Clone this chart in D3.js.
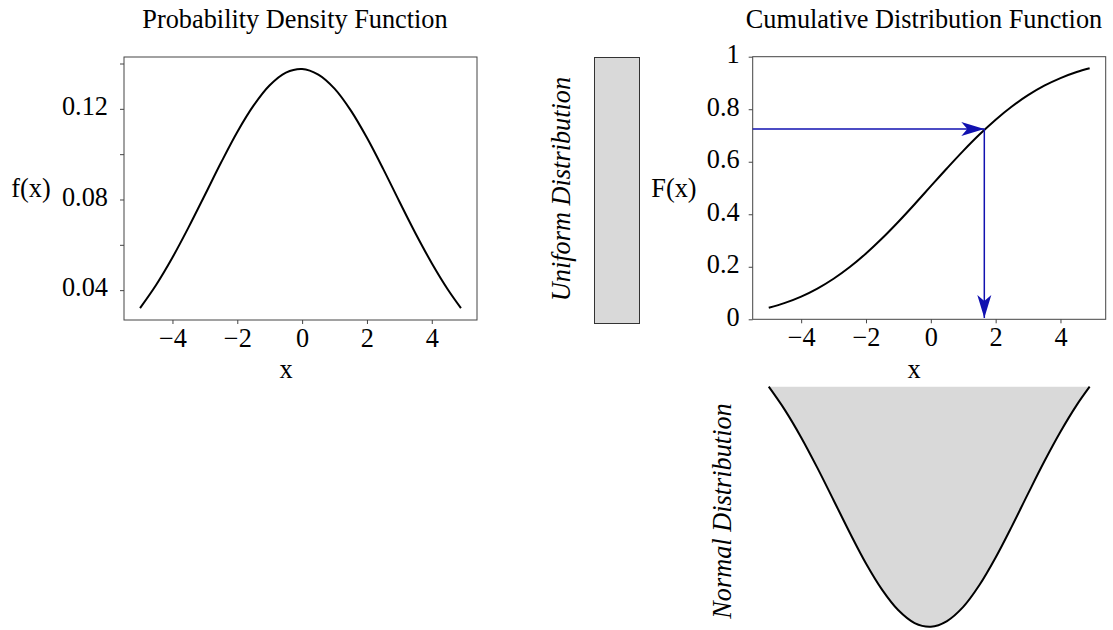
<!DOCTYPE html>
<html>
<head>
<meta charset="utf-8">
<script src="https://cdn.jsdelivr.net/npm/d3@7"></script>
<style>
  html, body { margin: 0; padding: 0; background: #fff; }
  svg { display: block; font-family: "Liberation Serif", "Times New Roman", serif; }
  svg text { font-family: "Liberation Serif", "Times New Roman", serif; }
</style>
</head>
<body>
<div id="chart"></div>
<script>
// values
const xValues = [-5, -4.5, -4, -3.5, -3, -2.5, -2, -1.5, -1, -0.5, 0, 0.5, 1, 1.5, 2, 2.5, 3, 3.5, 4, 4.5, 4.9];
const pdfValues = [0.0321, 0.0424, 0.0544, 0.0678, 0.0820, 0.0963, 0.1098, 0.1214, 0.1304, 0.1360, 0.1376,
  0.1351, 0.1289, 0.1193, 0.1072, 0.0935, 0.0791, 0.0650, 0.0519, 0.0402, 0.0321];
const cdfValues = [0.0439, 0.0625, 0.0866, 0.1171, 0.1545, 0.1991, 0.2507, 0.3085, 0.3716, 0.4383, 0.5069,
  0.5752, 0.6414, 0.7035, 0.7602, 0.8104, 0.8535, 0.8896, 0.9187, 0.9417, 0.9561];
const xTicks = [-4, -2, 0, 2, 4];
const pdfTicks = [0.04, 0.06, 0.08, 0.10, 0.12, 0.14];
const pdfTickLabels = [0.04, 0.08, 0.12];
const cdfTicks = [0, 0.2, 0.4, 0.6, 0.8, 1];
const arrowPoint = { x: 1.65, y: 0.725 };

(function () {
  const width = 1113, height = 630;
  const FONT = 26.3;
  const fill = '#d9d9d9';
  const arrowColor = '#1111b0';

  const points = xValues.map((x, i) => ({ x, pdf: pdfValues[i], cdf: cdfValues[i] }));

  const svg = d3.select('#chart').append('svg')
    .attr('width', width)
    .attr('height', height);

  // matplotlib-like 5% padding around the data
  function padded(ext) {
    const m = (ext[1] - ext[0]) * 0.05;
    return [ext[0] - m, ext[1] + m];
  }

  const xDomain = padded(d3.extent(xValues));

  function frame(g, x0, y0, x1, y1) {
    g.append('rect')
      .attr('x', x0).attr('y', y0)
      .attr('width', x1 - x0).attr('height', y1 - y0)
      .attr('fill', 'none')
      .attr('stroke', '#444')
      .attr('stroke-width', 1);
  }

  function styleAxis(g) {
    g.attr('font-family', null).attr('font-size', FONT);
    g.select('.domain').remove();
    g.selectAll('.tick line').attr('stroke', '#444');
    g.selectAll('.tick text')
      .attr('fill', '#000')
      .attr('font-size', FONT);
  }

  // ---------- PDF panel ----------
  const pdfBox = { x0: 124, x1: 477, y0: 57, y1: 320 };
  const xPdf = d3.scaleLinear().domain(xDomain).range([pdfBox.x0, pdfBox.x1]);
  const yPdf = d3.scaleLinear().domain(padded(d3.extent(pdfValues))).range([pdfBox.y1, pdfBox.y0]);
  const gPdf = svg.append('g');

  gPdf.append('g')
    .attr('transform', `translate(0,${pdfBox.y1})`)
    .call(d3.axisBottom(xPdf).tickValues(xTicks).tickSize(4).tickPadding(4).tickFormat(d3.format('d')))
    .call(styleAxis);

  gPdf.append('g')
    .attr('transform', `translate(${pdfBox.x0},0)`)
    .call(d3.axisLeft(yPdf).tickValues(pdfTicks).tickSize(4).tickPadding(12)
      .tickFormat(d => pdfTickLabels.some(v => Math.abs(v - d) < 1e-9) ? d3.format('.2f')(d) : ''))
    .call(styleAxis)
    .selectAll('.tick text').attr('dy', '0.22em');

  frame(gPdf, pdfBox.x0, pdfBox.y0, pdfBox.x1, pdfBox.y1);

  const pdfLine = d3.line()
    .x(d => xPdf(d.x))
    .y(d => yPdf(d.pdf))
    .curve(d3.curveCatmullRom);

  gPdf.append('path')
    .datum(points)
    .attr('fill', 'none')
    .attr('stroke', '#000')
    .attr('stroke-width', 2)
    .attr('d', pdfLine);

  gPdf.append('text')
    .attr('x', 295).attr('y', 28)
    .attr('text-anchor', 'middle')
    .attr('font-size', FONT)
    .text('Probability Density Function');

  gPdf.append('text')
    .attr('x', 31).attr('y', 196.5)
    .attr('text-anchor', 'middle')
    .attr('font-size', FONT)
    .text('f(x)');

  gPdf.append('text')
    .attr('x', 286).attr('y', 378)
    .attr('text-anchor', 'middle')
    .attr('font-size', FONT)
    .text('x');

  // ---------- Uniform distribution bar ----------
  svg.append('rect')
    .attr('x', 594.5).attr('y', 57.5)
    .attr('width', 45).attr('height', 266)
    .attr('fill', fill)
    .attr('stroke', '#333')
    .attr('stroke-width', 1);

  svg.append('text')
    .attr('transform', 'translate(570,189) rotate(-90)')
    .attr('text-anchor', 'middle')
    .attr('font-size', FONT)
    .attr('font-style', 'italic')
    .text('Uniform Distribution');

  // ---------- CDF panel ----------
  const cdfBox = { x0: 752.7, x1: 1105.7, y0: 56.7, y1: 319.3 };
  const xCdf = d3.scaleLinear().domain(xDomain).range([cdfBox.x0, cdfBox.x1]);
  const yCdf = d3.scaleLinear().domain([0, 1]).range([cdfBox.y1, cdfBox.y0]);
  const gCdf = svg.append('g');

  gCdf.append('g')
    .attr('transform', `translate(0,${cdfBox.y1})`)
    .call(d3.axisBottom(xCdf).tickValues(xTicks).tickSize(4).tickPadding(4).tickFormat(d3.format('d')))
    .call(styleAxis);

  gCdf.append('g')
    .attr('transform', `translate(${cdfBox.x0},0)`)
    .call(d3.axisLeft(yCdf).tickValues(cdfTicks).tickSize(4).tickPadding(9).tickFormat(d3.format('')))
    .call(styleAxis)
    .selectAll('.tick text').attr('dy', '0.22em');

  frame(gCdf, cdfBox.x0, cdfBox.y0, cdfBox.x1, cdfBox.y1);

  const cdfLine = d3.line()
    .x(d => xCdf(d.x))
    .y(d => yCdf(d.cdf))
    .curve(d3.curveCatmullRom);

  gCdf.append('path')
    .datum(points)
    .attr('fill', 'none')
    .attr('stroke', '#000')
    .attr('stroke-width', 2)
    .attr('d', cdfLine);

  // arrow head marker (notched)
  svg.append('defs').append('marker')
    .attr('id', 'head')
    .attr('markerUnits', 'userSpaceOnUse')
    .attr('viewBox', '-24 -8 26 16')
    .attr('refX', 0).attr('refY', 0)
    .attr('markerWidth', 26).attr('markerHeight', 16)
    .attr('orient', 'auto')
    .append('path')
    .attr('d', 'M0,0 L-23,-7 L-17,0 L-23,7 Z')
    .attr('fill', arrowColor);

  const ax = xCdf(arrowPoint.x), ay = yCdf(arrowPoint.y);
  gCdf.append('line')
    .attr('x1', cdfBox.x0).attr('y1', ay)
    .attr('x2', ax).attr('y2', ay)
    .attr('stroke', arrowColor).attr('stroke-width', 1.5)
    .attr('marker-end', 'url(#head)');
  gCdf.append('line')
    .attr('x1', ax).attr('y1', ay)
    .attr('x2', ax).attr('y2', yCdf(0.005))
    .attr('stroke', arrowColor).attr('stroke-width', 1.5)
    .attr('marker-end', 'url(#head)');

  gCdf.append('text')
    .attr('x', 924).attr('y', 28)
    .attr('text-anchor', 'middle')
    .attr('font-size', FONT)
    .text('Cumulative Distribution Function');

  gCdf.append('text')
    .attr('x', 674).attr('y', 196.5)
    .attr('text-anchor', 'middle')
    .attr('font-size', FONT)
    .text('F(x)');

  gCdf.append('text')
    .attr('x', 914).attr('y', 378)
    .attr('text-anchor', 'middle')
    .attr('font-size', FONT)
    .text('x');

  // ---------- Normal distribution (inverted pdf) ----------
  const yNorm = d3.scaleLinear().domain(d3.extent(pdfValues)).range([386.7, 626.7]);
  const gNorm = svg.append('g');

  gNorm.append('path')
    .datum(points)
    .attr('fill', fill)
    .attr('stroke', 'none')
    .attr('d', d3.area()
      .x(d => xCdf(d.x))
      .y0(yNorm(d3.min(pdfValues)))
      .y1(d => yNorm(d.pdf))
      .curve(d3.curveCatmullRom));

  gNorm.append('path')
    .datum(points)
    .attr('fill', 'none')
    .attr('stroke', '#000')
    .attr('stroke-width', 2)
    .attr('d', d3.line()
      .x(d => xCdf(d.x))
      .y(d => yNorm(d.pdf))
      .curve(d3.curveCatmullRom));

  gNorm.append('text')
    .attr('transform', 'translate(731,511) rotate(-90)')
    .attr('text-anchor', 'middle')
    .attr('font-size', FONT)
    .attr('font-style', 'italic')
    .text('Normal Distribution');
})();
</script>
</body>
</html>
